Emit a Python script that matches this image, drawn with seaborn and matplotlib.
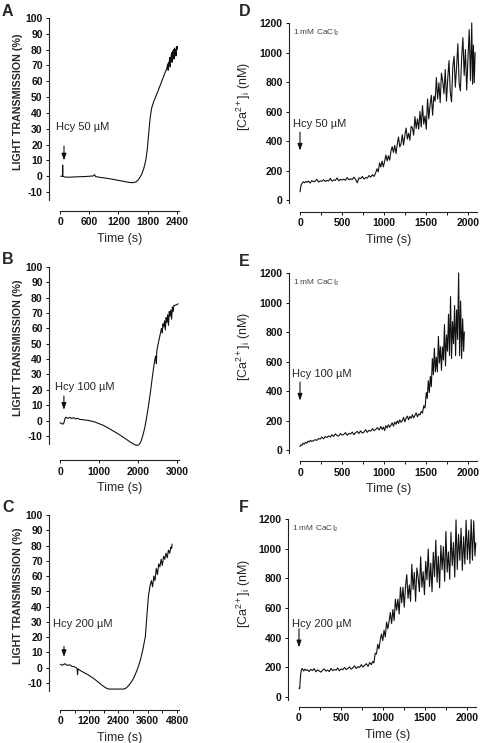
import matplotlib.pyplot as plt
import matplotlib.ticker as mtick
import seaborn as sns

# ─── Style ──────────────────────────────────────────────────────────────────
sns.set_theme(style="ticks")
plt.rcParams["font.family"] = ["Liberation Sans", "DejaVu Sans"]
plt.rcParams["mathtext.fontset"] = "custom"
plt.rcParams["mathtext.rm"] = "Liberation Sans"
plt.rcParams["mathtext.it"] = "Liberation Sans:italic"
plt.rcParams["mathtext.bf"] = "Liberation Sans:bold"
plt.rcParams["axes.unicode_minus"] = False

INK = "#111111"

# ─── Data: light transmission (%) ───────────────────────────────────────────
a_time = [15, 50, 55, 60, 100, 200, 300, 400, 500, 600, 680, 710, 730, 800, 900,
          1000, 1100, 1200, 1300, 1400, 1450, 1500, 1550, 1600, 1640, 1680, 1720,
          1760, 1790, 1820, 1850, 1880, 1920, 1960, 2000, 2050, 2100, 2150, 2190,
          2210, 2220, 2230, 2240, 2250, 2260, 2270, 2280, 2290, 2300, 2310, 2320,
          2330, 2340, 2350, 2360, 2370, 2380, 2390, 2400, 2410]
a_trans = [0, 0, 7, 0, -0.5, -0.6, -0.4, -0.3, -0.2, 0, 0.2, 1.0, -0.2, -0.6, -1.0,
           -1.5, -2.0, -2.6, -3.2, -3.8, -4.0, -4.0, -3.7, -2.5, -0.8, 1.5, 5,
           10, 17, 27, 37, 43, 47, 50, 53, 57, 61, 65, 68,
           71, 67, 72, 71, 75, 69, 74, 76, 78, 72, 79, 77,
           80, 74, 81, 78, 80, 76, 82, 80, 82]

b_time = [0, 40, 70, 100, 130, 150, 200, 250, 300, 350, 400, 450, 500, 600, 700,
          800, 900, 1000, 1100, 1200, 1300, 1400, 1500, 1600, 1700, 1800, 1900,
          1970, 2020, 2070, 2120, 2170, 2220, 2270, 2320, 2370, 2420, 2450, 2470,
          2480, 2500, 2550, 2600, 2620, 2640, 2660, 2680, 2700, 2720, 2740, 2760,
          2780, 2800, 2820, 2840, 2860, 2880, 2900, 2920, 2950, 2990, 3030]
b_trans = [-1.5, -1.8, -2.4, -1.5, 1.5, 2.2, 1.4, 2.1, 1.3, 1.9, 1.0, 1.5, 0.8, 0.5, 0.2,
           -0.3, -1.0, -2.0, -3.0, -4.3, -5.8, -7.3, -8.8, -10.5, -12.2, -14, -15.5,
           -16.2, -15.8, -14, -10, -5, 2, 10, 19, 29, 38, 42, 37,
           45, 48, 54, 60, 57, 63, 61, 65, 59, 67, 64, 69,
           62, 71, 68, 72, 66, 74, 71, 75, 75, 75.5, 76]

c_time = [14, 100, 200, 300, 400, 500, 600, 700, 720, 740, 850, 950, 1050, 1150,
          1250, 1350, 1450, 1550, 1650, 1750, 1850, 1950, 2050, 2300, 2600, 2700,
          2800, 2900, 3000, 3100, 3200, 3300, 3400, 3500, 3570, 3630, 3700, 3750,
          3800, 3850, 3900, 3950, 4000, 4050, 4100, 4150, 4200, 4250, 4300, 4350,
          4400, 4450, 4500, 4550, 4580, 4600]
c_trans = [2.2, 1.6, 2.6, 1.5, 1.9, 0.8, 0.6, -0.5, -4.5, -0.8, -2.0, -2.9, -3.8, -4.6,
           -5.7, -6.8, -7.9, -9.2, -10.5, -11.8, -12.9, -13.8, -14, -14, -14, -13.5,
           -12, -10, -7.5, -4, 0, 5, 12, 20, 35, 47, 54, 57,
           53, 60, 57, 65, 61, 68, 66, 71, 67, 73, 71, 75,
           72, 77, 75, 79, 78, 81]

# ─── Data: [Ca2+]i (nM) ─────────────────────────────────────────────────────
d_time = [0, 6, 12, 20, 30, 40, 55, 70, 85, 100, 120, 140, 160, 180, 200, 220, 240,
          260, 280, 300, 320, 340, 360, 380, 400, 420, 440, 460, 480, 500, 520, 540,
          560, 580, 600, 620, 640, 660, 680, 700, 720, 740, 760, 780, 800, 820, 840,
          860, 880, 900, 915, 930, 945, 960, 975, 990, 1005, 1020, 1035, 1050, 1065,
          1080, 1095, 1110, 1125, 1140, 1155, 1170, 1185, 1200, 1215, 1230, 1245,
          1260, 1275, 1290, 1305, 1320, 1335, 1350, 1365, 1380, 1395, 1410, 1425,
          1440, 1455, 1470, 1485, 1500, 1515, 1530, 1545, 1560, 1575, 1590, 1605,
          1620, 1635, 1650, 1665, 1680, 1695, 1710, 1725, 1740, 1755, 1770, 1785,
          1800, 1815, 1830, 1845, 1860, 1875, 1890, 1905, 1920, 1935, 1950, 1965,
          1980, 1995, 2010, 2025, 2040, 2050, 2060, 2070, 2080]
d_conc = [56, 80, 101, 108, 118, 124, 117, 126, 121, 129, 115, 131, 124, 128, 140, 122, 130,
          127, 138, 126, 133, 129, 147, 128, 137, 133, 150, 131, 140, 136, 142, 134,
          152, 138, 144, 139, 155, 141, 117, 150, 145, 160, 143, 152, 149, 166, 155,
          172, 160, 186, 212, 192, 252, 224, 264, 225, 263, 305, 265, 300, 270,
          332, 362, 323, 370, 315, 377, 427, 360, 380, 443, 373, 438,
          488, 413, 453, 406, 500, 490, 440, 565, 485, 550, 480, 600,
          495, 640, 515, 570, 480, 685, 550, 645, 710, 575, 705, 670,
          830, 685, 795, 660, 860, 805, 720, 885, 670, 825, 945, 730,
          665, 900, 975, 765, 905, 1060, 795, 740, 965, 1100, 845, 1020,
          745, 960, 1155, 810, 1200, 785, 1050, 795, 1000]

e_time = [0, 10, 20, 35, 50, 65, 80, 95, 110, 125, 140, 160, 180, 200, 220, 240, 260,
          280, 300, 320, 340, 360, 380, 400, 420, 440, 460, 480, 500, 520, 540, 560,
          580, 600, 620, 640, 660, 680, 700, 720, 740, 760, 780, 800, 820, 840, 860,
          880, 900, 920, 940, 960, 975, 990, 1005, 1020, 1035, 1050, 1065, 1080,
          1095, 1110, 1125, 1140, 1155, 1170, 1185, 1200, 1215, 1230, 1245, 1260,
          1275, 1290, 1305, 1320, 1335, 1350, 1365, 1380, 1395, 1410, 1425, 1440,
          1455, 1470, 1485, 1500, 1512, 1524, 1536, 1548, 1560, 1572, 1584, 1596,
          1608, 1620, 1632, 1644, 1656, 1668, 1680, 1692, 1704, 1716, 1728, 1740,
          1752, 1764, 1776, 1788, 1800, 1812, 1824, 1836, 1848, 1860, 1872, 1884,
          1896, 1908, 1920, 1932, 1944, 1952]
e_conc = [23, 35, 31, 46, 41, 52, 47, 60, 55, 66, 58, 64, 70, 66, 78, 74, 88,
          76, 92, 85, 96, 88, 104, 92, 110, 98, 95, 112, 101, 106, 118, 100,
          113, 109, 122, 104, 118, 126, 112, 130, 115, 122, 138, 120, 134, 128, 145,
          132, 140, 152, 136, 160, 140, 156, 132, 165, 150, 172, 155, 168,
          185, 162, 190, 175, 198, 180, 205, 188, 198, 222, 192, 215,
          230, 205, 228, 215, 240, 218, 235, 252, 225, 245, 238, 262,
          250, 300, 285, 390, 350, 470, 390, 500, 430, 620, 510, 690,
          530, 630, 530, 770, 590, 700, 540, 700, 610, 850, 570, 780,
          670, 920, 640, 1040, 620, 870, 720, 980, 640, 950, 750, 1200,
          640, 1010, 620, 890, 670, 800]

f_time = [0, 8, 14, 20, 30, 40, 55, 70, 85, 100, 120, 140, 160, 180, 200, 220, 240,
          260, 280, 300, 320, 340, 360, 380, 400, 420, 440, 460, 480, 500, 520, 540,
          560, 580, 600, 620, 640, 660, 680, 700, 720, 740, 760, 780, 800, 820, 840,
          860, 875, 890, 905, 920, 935, 950, 965, 980, 995, 1010, 1025, 1040, 1055,
          1070, 1085, 1100, 1115, 1130, 1145, 1160, 1175, 1190, 1205, 1220, 1235,
          1250, 1265, 1280, 1295, 1310, 1325, 1340, 1355, 1370, 1385, 1400, 1415,
          1430, 1445, 1460, 1475, 1490, 1505, 1520, 1535, 1550, 1565, 1580, 1595,
          1610, 1625, 1640, 1655, 1670, 1685, 1700, 1715, 1730, 1745, 1760, 1775,
          1790, 1805, 1820, 1835, 1850, 1865, 1880, 1895, 1910, 1925, 1940, 1955,
          1970, 1985, 2000, 2015, 2030, 2045, 2060, 2075, 2090, 2100]
f_conc = [60, 56, 110, 158, 185, 192, 176, 188, 179, 184, 172, 186, 178, 192, 170, 183, 176,
          168, 181, 189, 174, 182, 171, 193, 178, 185, 181, 196, 177, 189, 184, 199,
          186, 192, 203, 188, 196, 210, 192, 205, 199, 218, 202, 214, 225, 206, 233,
          218, 240, 230, 295, 290, 355, 325, 385, 425, 380, 450, 405, 505, 460,
          510, 570, 495, 590, 515, 660, 585, 660, 560, 740, 635, 740,
          605, 745, 825, 665, 755, 645, 895, 725, 840, 645, 870, 805,
          710, 945, 740, 845, 690, 915, 790, 998, 745, 902, 710, 976,
          812, 1058, 774, 950, 736, 1022, 858, 1014, 780, 1116, 842, 978,
          794, 1110, 886, 1042, 808, 1194, 860, 1096, 922, 1138, 854, 1080,
          896, 1192, 928, 1124, 900, 1196, 922, 1188, 950, 1040]

# ─── Layout (pixels on a 480 x 743 canvas) ──────────────────────────────────
FIG_W, FIG_H = 480, 743


def px_axes(fig, left, top, width, height):
    return fig.add_axes([left / FIG_W, 1 - (top + height) / FIG_H,
                         width / FIG_W, height / FIG_H])


def draw_trace(ax, t, v):
    sns.lineplot(x=t, y=v, ax=ax, color=INK, linewidth=0.8,
                 estimator=None, sort=False)
    ax.lines[-1].set_clip_on(False)


def style_axes(ax, bottom_offset):
    sns.despine(ax=ax, offset={"left": 8, "bottom": bottom_offset})
    for side in ("left", "bottom"):
        ax.spines[side].set_linewidth(0.8)
        ax.spines[side].set_color("#222222")
    ax.tick_params(which="both", direction="out", length=2.5, width=0.7,
                   pad=2, labelsize=7.5, colors="#111111")
    plt.setp(ax.get_xticklabels() + ax.get_yticklabels(), fontweight="bold")
    ax.set_xlabel("Time (s)", fontsize=9, labelpad=4)


def hcy_marker(ax, label, text_xy, arrow_x, arrow_top, arrow_tip):
    ax.text(*text_xy, label, ha="center", va="center", fontsize=8)
    ax.annotate("", xy=(arrow_x, arrow_tip), xytext=(arrow_x, arrow_top),
                arrowprops=dict(arrowstyle="-|>,head_length=0.4,head_width=0.14",
                                color=INK, lw=0.8, shrinkA=0, shrinkB=0,
                                mutation_scale=10))


fig = plt.figure(figsize=(4.8, 7.43), dpi=100)

left_panels = [
    # letter, time, values, rect, xlim, xticks, minor, bottom offset, hcy
    ("A", a_time, a_trans, (60, 18, 119.4, 182), 2450, [0, 600, 1200, 1800, 2400], None, 8,
     ("Hcy 50 µM", (462, 31), 82, 19, 10)),
    ("B", b_time, b_trans, (60, 267, 119, 176.6), 3050, [0, 1000, 2000, 3000], None, 12,
     ("Hcy 100 µM", (641, 22), 100, 16, 7)),
    ("C", c_time, c_trans, (60, 515, 119.4, 175.6), 4900, [0, 1200, 2400, 3600, 4800], 600, 14,
     ("Hcy 200 µM", (923, 28.6), 164, 14, 7)),
]

for letter, t, v, rect, xmax, xticks, minor, boff, hcy in left_panels:
    ax = px_axes(fig, *rect)
    draw_trace(ax, t, v)
    ax.set_xlim(0, xmax)
    ax.set_ylim(-15, 100)
    ax.set_xticks(xticks)
    if minor:
        ax.xaxis.set_minor_locator(mtick.MultipleLocator(minor))
    ax.set_yticks(range(-10, 101, 10))
    style_axes(ax, boff)
    ax.set_ylabel("LIGHT TRANSMISSION (%)", fontsize=7.7, fontweight="bold")
    ax.yaxis.set_label_coords((23 - rect[0]) / rect[2], 0.54)
    hcy_marker(ax, hcy[0], hcy[1], hcy[2], hcy[3], hcy[4])
    fig.text(2 / FIG_W, 1 - (rect[1] - 7) / FIG_H, letter, fontsize=11.5,
             fontweight="bold", va="center", ha="left")

right_panels = [
    ("D", d_time, d_conc, (300, 23, 176.8, 180), 6.5, ("Hcy 50 µM", (232, 515))),
    ("E", e_time, e_conc, (300, 273, 176.8, 180), 6, ("Hcy 100 µM", (262, 515))),
    ("F", f_time, f_conc, (299, 519, 176.8, 181), 5, ("Hcy 200 µM", (274, 495))),
]

for letter, t, v, rect, boff, hcy in right_panels:
    ax = px_axes(fig, *rect)
    draw_trace(ax, t, v)
    ax.set_xlim(0, 2100)
    ax.set_ylim(-20, 1200)
    ax.set_xticks([0, 500, 1000, 1500, 2000])
    ax.xaxis.set_minor_locator(mtick.MultipleLocator(250))
    ax.set_yticks(range(0, 1201, 200))
    style_axes(ax, boff)
    ax.set_ylabel(r"[Ca$^{2+}$]$_\mathrm{i}$ (nM)", fontsize=9)
    ax.yaxis.set_label_coords((253 - rect[0]) / rect[2], 0.59)
    ax.text(-0.04, 0.944, r"1 mM CaCl$_2$", transform=ax.transAxes,
            fontsize=6, color="#444444", ha="left", va="center")
    hcy_marker(ax, hcy[0], hcy[1], 0, 460, 335)
    fig.text(239 / FIG_W, 1 - (rect[1] - 12) / FIG_H, letter, fontsize=11.5,
             fontweight="bold", va="center", ha="left")

fig.savefig("out.png", dpi=100)
